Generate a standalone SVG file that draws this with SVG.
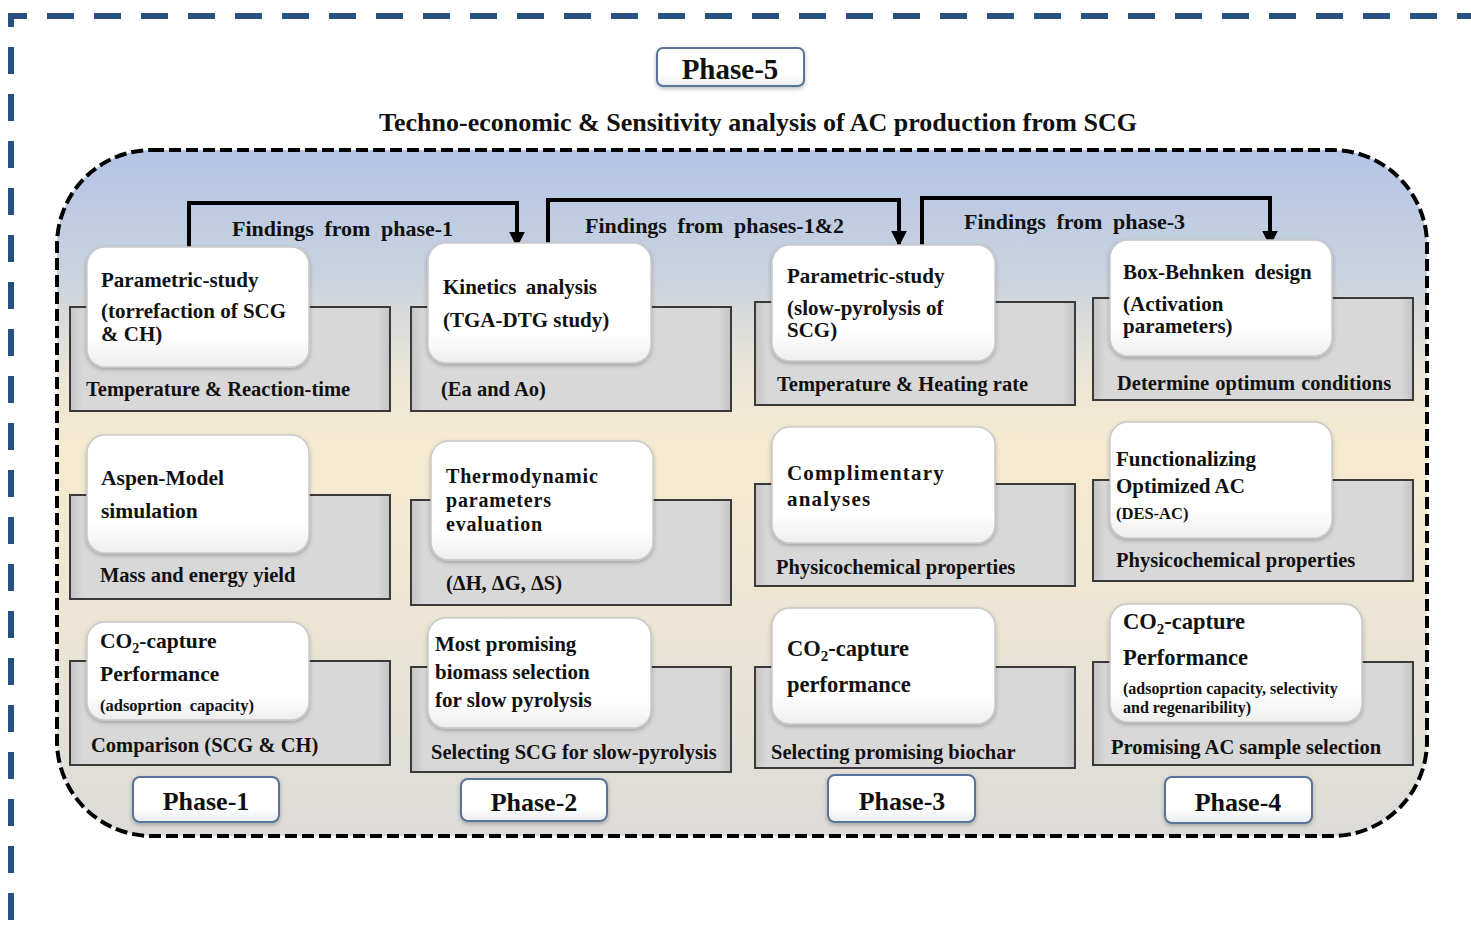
<svg xmlns="http://www.w3.org/2000/svg" width="1471" height="928" viewBox="0 0 1471 928">
<defs>
  <linearGradient id="bg" x1="0" y1="0" x2="0" y2="1">
    <stop offset="0" stop-color="#b3c5e6"/>
    <stop offset="0.18" stop-color="#c9d2de"/>
    <stop offset="0.33" stop-color="#ece6d6"/>
    <stop offset="0.45" stop-color="#f6ebcf"/>
    <stop offset="0.7" stop-color="#ece5d5"/>
    <stop offset="1" stop-color="#dcdbd8"/>
  </linearGradient>
  <linearGradient id="grayfill" x1="0" y1="0" x2="1" y2="0">
    <stop offset="0" stop-color="#c4c4c4"/>
    <stop offset="0.04" stop-color="#d8d8d8"/>
    <stop offset="0.96" stop-color="#d8d8d8"/>
    <stop offset="1" stop-color="#c4c4c4"/>
  </linearGradient>
  <linearGradient id="cardfill" x1="0" y1="0" x2="0" y2="1">
    <stop offset="0" stop-color="#ffffff"/>
    <stop offset="0.75" stop-color="#ffffff"/>
    <stop offset="1" stop-color="#eeeeee"/>
  </linearGradient>
  <linearGradient id="phasefill" x1="0" y1="0" x2="0" y2="1">
    <stop offset="0" stop-color="#ffffff"/>
    <stop offset="0.7" stop-color="#ffffff"/>
    <stop offset="1" stop-color="#e9ecf1"/>
  </linearGradient>
  <filter id="sh" x="-10%" y="-10%" width="120%" height="130%">
    <feDropShadow dx="0" dy="2" stdDeviation="2" flood-color="#000" flood-opacity="0.25"/>
  </filter>
  <marker id="arr" viewBox="0 0 10 10" refX="9" refY="5" markerWidth="4" markerHeight="4" orient="auto" markerUnits="strokeWidth">
    <path d="M0,0 L10,5 L0,10 Z" fill="#000"/>
  </marker>
</defs>
<style>
  text { font-family: "Liberation Serif", "Times New Roman", serif; font-weight: bold; fill: #111; }
  .t { font-size: 21px; }
  .tb { font-size: 22.5px; }
  .l { font-size: 20.5px; }
  .s { font-size: 16.5px; }
  .xs { font-size: 16px; }
  .ph { font-size: 26px; text-anchor: middle; }
  .f { font-size: 22px; word-spacing: 5px; }
  .gray { fill: url(#grayfill); stroke: #3a3a3a; stroke-width: 2; }
  .card { fill: url(#cardfill); stroke: #c9c9c9; stroke-width: 1.5; filter: url(#sh); }
  .pbox { fill: url(#phasefill); stroke: #5a7398; stroke-width: 2; filter: url(#sh); }
  .conn { fill: none; stroke: #000; stroke-width: 4; }
</style>

<rect width="1471" height="928" fill="#ffffff"/>
<path d="M1471 16 H11 V928" fill="none" stroke="#27527f" stroke-width="6" stroke-dasharray="27 20" stroke-dashoffset="13"/>

<rect id="panel" x="57" y="150" width="1370" height="686" rx="95" ry="95" fill="url(#bg)" stroke="#000" stroke-width="4" stroke-dasharray="12 5"/>

<g id="phase5">
  <rect class="pbox" x="657" y="48" width="147" height="38" rx="6"/>
  <text class="ph" x="730" y="79" style="font-size:29px">Phase-5</text>
</g>
<text id="title" x="758" y="131" text-anchor="middle" style="font-size:26px">Techno-economic &amp; Sensitivity analysis of AC production from SCG</text>

<g id="connectors">
  <path class="conn" d="M189 247 V203 H517 V246" marker-end="url(#arr)"/>
  <path class="conn" d="M548 250 V200 H899 V245" marker-end="url(#arr)"/>
  <path class="conn" d="M922 248 V198 H1270 V245" marker-end="url(#arr)"/>
  <text class="f" x="232" y="236">Findings from phase-1</text>
  <text class="f" x="585" y="233">Findings from phases-1&amp;2</text>
  <text class="f" x="964" y="229">Findings from phase-3</text>
</g>

<!-- Column 1 -->
<g id="p1-param">
  <rect class="gray" x="70" y="307" width="320" height="104"/>
  <rect class="card" x="87" y="247" width="222" height="120" rx="18"/>
  <text class="t" x="101" y="287">Parametric-study</text>
  <text class="t" x="101" y="318">(torrefaction of SCG</text>
  <text class="t" x="101" y="341">&amp; CH)</text>
  <text class="l" x="86" y="396">Temperature &amp; Reaction-time</text>
</g>
<g id="p1-aspen">
  <rect class="gray" x="70" y="495" width="320" height="104"/>
  <rect class="card" x="87" y="435" width="222" height="118" rx="18"/>
  <text class="t" x="101" y="485" style="font-size:21.5px">Aspen-Model</text>
  <text class="t" x="101" y="518" style="font-size:21.5px">simulation</text>
  <text class="l" x="100" y="582">Mass and energy yield</text>
</g>
<g id="p1-co2">
  <rect class="gray" x="70" y="661" width="320" height="104"/>
  <rect class="card" x="87" y="622" width="222" height="98" rx="18"/>
  <text class="t" x="100" y="648" style="font-size:21.5px">CO<tspan font-size="14" dy="5">2</tspan><tspan dy="-5">-capture</tspan></text>
  <text class="t" x="100" y="681" style="font-size:21.5px">Performance</text>
  <text class="s" x="100" y="711" style="word-spacing:4px">(adsoprtion capacity)</text>
  <text class="l" x="91" y="752">Comparison (SCG &amp; CH)</text>
</g>
<g id="phase1">
  <rect class="pbox" x="133" y="777" width="146" height="45" rx="7"/>
  <text class="ph" x="206" y="810">Phase-1</text>
</g>

<!-- Column 2 -->
<g id="p2-kinetics">
  <rect class="gray" x="411" y="307" width="320" height="104"/>
  <rect class="card" x="428" y="243" width="223" height="120" rx="18"/>
  <text class="t" x="443" y="294" style="word-spacing:4px">Kinetics analysis</text>
  <text class="t" x="443" y="327">(TGA-DTG study)</text>
  <text class="l" x="441" y="396">(Ea and Ao)</text>
</g>
<g id="p2-thermo">
  <rect class="gray" x="411" y="500" width="320" height="105"/>
  <rect class="card" x="431" y="441" width="222" height="119" rx="18"/>
  <text class="t" x="446" y="483" style="font-size:20px;letter-spacing:0.8px">Thermodynamic</text>
  <text class="t" x="446" y="507" style="font-size:20px;letter-spacing:0.8px">parameters</text>
  <text class="t" x="446" y="531" style="font-size:20px;letter-spacing:0.8px">evaluation</text>
  <text class="l" x="446" y="590">(ΔH, ΔG, ΔS)</text>
</g>
<g id="p2-select">
  <rect class="gray" x="411" y="667" width="320" height="105"/>
  <rect class="card" x="428" y="618" width="223" height="110" rx="18"/>
  <text class="t" x="435" y="651">Most promising</text>
  <text class="t" x="435" y="679">biomass selection</text>
  <text class="t" x="435" y="707">for slow pyrolysis</text>
  <text class="l" x="431" y="759">Selecting SCG for slow-pyrolysis</text>
</g>
<g id="phase2">
  <rect class="pbox" x="461" y="779" width="146" height="42" rx="7"/>
  <text class="ph" x="534" y="811">Phase-2</text>
</g>

<!-- Column 3 -->
<g id="p3-param">
  <rect class="gray" x="755" y="302" width="320" height="103"/>
  <rect class="card" x="772" y="245" width="223" height="116" rx="18"/>
  <text class="t" x="787" y="283">Parametric-study</text>
  <text class="t" x="787" y="315">(slow-pyrolysis of</text>
  <text class="t" x="787" y="337">SCG)</text>
  <text class="l" x="777" y="391">Temperature &amp; Heating rate</text>
</g>
<g id="p3-compl">
  <rect class="gray" x="755" y="484" width="320" height="102"/>
  <rect class="card" x="772" y="427" width="223" height="116" rx="18"/>
  <text class="t" x="787" y="480" style="letter-spacing:1.2px">Complimentary</text>
  <text class="t" x="787" y="506" style="letter-spacing:1.2px">analyses</text>
  <text class="l" x="776" y="574">Physicochemical properties</text>
</g>
<g id="p3-co2">
  <rect class="gray" x="755" y="667" width="320" height="101"/>
  <rect class="card" x="772" y="608" width="223" height="116" rx="18"/>
  <text class="tb" x="787" y="656">CO<tspan font-size="15" dy="5">2</tspan><tspan dy="-5">-capture</tspan></text>
  <text class="tb" x="787" y="692">performance</text>
  <text class="l" x="771" y="759">Selecting promising biochar</text>
</g>
<g id="phase3">
  <rect class="pbox" x="828" y="775" width="147" height="47" rx="7"/>
  <text class="ph" x="902" y="810">Phase-3</text>
</g>

<!-- Column 4 -->
<g id="p4-bbd">
  <rect class="gray" x="1093" y="298" width="320" height="102"/>
  <rect class="card" x="1110" y="240" width="222" height="116" rx="18"/>
  <text class="t" x="1123" y="279" style="word-spacing:5px">Box-Behnken design</text>
  <text class="t" x="1123" y="311">(Activation</text>
  <text class="t" x="1123" y="333">parameters)</text>
  <text class="l" x="1117" y="390" style="word-spacing:1px">Determine optimum conditions</text>
</g>
<g id="p4-func">
  <rect class="gray" x="1093" y="480" width="320" height="101"/>
  <rect class="card" x="1110" y="422" width="222" height="116" rx="18"/>
  <text class="t" x="1116" y="466">Functionalizing</text>
  <text class="t" x="1116" y="493">Optimized AC</text>
  <text class="s" x="1116" y="519">(DES-AC)</text>
  <text class="l" x="1116" y="567">Physicochemical properties</text>
</g>
<g id="p4-co2">
  <rect class="gray" x="1093" y="662" width="320" height="103"/>
  <rect class="card" x="1110" y="604" width="252" height="118" rx="18"/>
  <text class="tb" x="1123" y="629">CO<tspan font-size="15" dy="5">2</tspan><tspan dy="-5">-capture</tspan></text>
  <text class="tb" x="1123" y="665">Performance</text>
  <text class="xs" x="1123" y="694">(adsoprtion capacity, selectivity</text>
  <text class="xs" x="1123" y="713">and regenaribility)</text>
  <text class="l" x="1111" y="754">Promising AC sample selection</text>
</g>
<g id="phase4">
  <rect class="pbox" x="1165" y="777" width="147" height="46" rx="7"/>
  <text class="ph" x="1238" y="811">Phase-4</text>
</g>
</svg>
